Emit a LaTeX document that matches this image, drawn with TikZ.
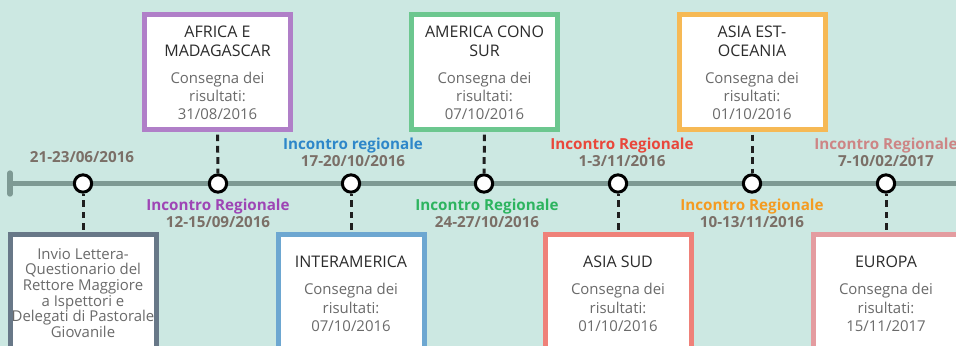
\documentclass[tikz,border=0pt]{standalone}
\usepackage{fontspec}
\setmainfont{Open Sans}
\definecolor{bgc}{HTML}{CCE8E2}
\definecolor{linec}{HTML}{7E9A94}
\definecolor{datec}{HTML}{7B6F67}
\definecolor{titlec}{HTML}{2B2B2B}
\definecolor{bodyc}{HTML}{6A6A6A}
\definecolor{bInvio}{HTML}{687888}
\definecolor{bAfrica}{HTML}{B07FC8}
\definecolor{bInter}{HTML}{6DA7D1}
\definecolor{bCono}{HTML}{6CC78F}
\definecolor{bSud}{HTML}{EF8179}
\definecolor{bEst}{HTML}{F6B955}
\definecolor{bEur}{HTML}{E49CA0}
\definecolor{lPurple}{HTML}{9E45B5}
\definecolor{lBlue}{HTML}{2E87C9}
\definecolor{lGreen}{HTML}{2DB45F}
\definecolor{lRed}{HTML}{E9473B}
\definecolor{lOrange}{HTML}{F49B21}
\definecolor{lPink}{HTML}{CD8585}
\begin{document}
\begin{tikzpicture}[x=0.75pt,y=-0.75pt,
  box/.style={draw=#1, fill=white, line width=3.75pt, minimum width=109.5pt, inner sep=0pt},
  topbox/.style={box=#1, minimum height=86.25pt},
  botbox/.style={box=#1, minimum height=124pt},
  dot/.style={circle, draw=black, fill=white, line width=2.25pt, minimum size=13pt, inner sep=0pt},
  conn/.style={draw=black!88, line width=2.25pt, dash pattern=on 5pt off 3.5pt, shorten <=1.9pt},
  ttl/.style={font=\fontsize{12}{14}\selectfont, text=titlec, align=center, inner sep=0pt, anchor=north},
  bdy/.style={font=\fontsize{11.2}{13.75}\selectfont, text=bodyc, align=center, inner sep=0pt, anchor=north},
  lbl/.style={font=\fontsize{11.4}{13}\selectfont\bfseries, inner sep=0pt, anchor=base},
  datelbl/.style={lbl, text=datec}]
\useasboundingbox (0,0) rectangle (956,346);
\fill[bgc] (0,0) rectangle (956,346);
\clip (0,0) rectangle (956,346);

% timeline
\coordinate (tstart) at (10,183.5);
\coordinate (tend) at (962,183.5);
\draw[linec, line width=4.2pt] (tstart) -- (tend);
\draw[linec, line width=4pt, line cap=round] (10,173) -- (10,194);

% circles
\node[dot] (c1) at (83,183.5) {};
\node[dot] (c2) at (218,183.5) {};
\node[dot] (c3) at (351,183.5) {};
\node[dot] (c4) at (484,183.5) {};
\node[dot] (c5) at (618,183.5) {};
\node[dot] (c6) at (752,183.5) {};
\node[dot] (c7) at (886,183.5) {};

% boxes
\node[topbox=bAfrica] (bA) at (217.5,72) {};
\node[topbox=bCono] (bC) at (484.5,72) {};
\node[topbox=bEst] (bE) at (752,72) {};
\node[botbox=bInvio] (bI) at (83,317.25) {};
\node[botbox=bInter] (bT) at (351,317.25) {};
\node[botbox=bSud] (bS) at (618,317.25) {};
\node[botbox=bEur] (bU) at (886,317.25) {};

% connectors
\draw[conn] (bA.south) -- (c2.north);
\draw[conn] (bC.south) -- (c4.north);
\draw[conn] (bE.south) -- (c6.north);
\draw[conn] (bI.north) -- (c1.south);
\draw[conn] (bT.north) -- (c3.south);
\draw[conn] (bS.north) -- (c5.south);
\draw[conn] (bU.north) -- (c7.south);

% box texts
\node[ttl] (tA) at (217.5,25.9) {AFRICA E\\MADAGASCAR};
\node[bdy] (dA) at (217.5,71.6) {Consegna dei\\risultati:\\31/08/2016};
\node[ttl] (tC) at (484.5,25.9) {AMERICA CONO\\SUR};
\node[bdy] (dC) at (484.5,71.6) {Consegna dei\\risultati:\\07/10/2016};
\node[ttl] (tE) at (752,25.9) {ASIA EST-\\OCEANIA};
\node[bdy] (dE) at (752,71.6) {Consegna dei\\risultati:\\01/10/2016};

\node[bdy, font=\fontsize{11.2}{11.8}\selectfont] (dI) at (83,247.8) {Invio Lettera-\\Questionario del\\Rettore Maggiore\\a Ispettori e\\Delegati di Pastorale\\Giovanile};
\node[ttl] (tT) at (351,255.9) {INTERAMERICA};
\node[bdy] (dT) at (351,283.2) {Consegna dei\\risultati:\\07/10/2016};
\node[ttl] (tS) at (618,255.9) {ASIA SUD};
\node[bdy] (dS) at (618,283.2) {Consegna dei\\risultati:\\01/10/2016};
\node[ttl] (tU) at (886,255.9) {EUROPA};
\node[bdy] (dU) at (886,283.2) {Consegna dei\\risultati:\\15/11/2017};

% labels
\node[datelbl] (l1) at (82,162.7) {21-23/06/2016};
\node[lbl, text=lPurple] (l2) at (218,210) {Incontro Regionale};
\node[datelbl] (d2) at (218,227.3) {12-15/09/2016};
\node[lbl, text=lBlue] (l3) at (353,149.5) {Incontro regionale};
\node[datelbl] (d3) at (353,166.7) {17-20/10/2016};
\node[lbl, text=lGreen] (l4) at (487,210) {Incontro Regionale};
\node[datelbl] (d4) at (487,227.3) {24-27/10/2016};
\node[lbl, text=lRed] (l5) at (622,149.5) {Incontro Regionale};
\node[datelbl] (d5) at (622,166.7) {1-3/11/2016};
\node[lbl, text=lOrange] (l6) at (752,210) {Incontro Regionale};
\node[datelbl] (d6) at (752,227.3) {10-13/11/2016};
\node[lbl, text=lPink] (l7) at (886,149.5) {Incontro Regionale};
\node[datelbl] (d7) at (886,166.7) {7-10/02/2017};
\end{tikzpicture}
\end{document}
